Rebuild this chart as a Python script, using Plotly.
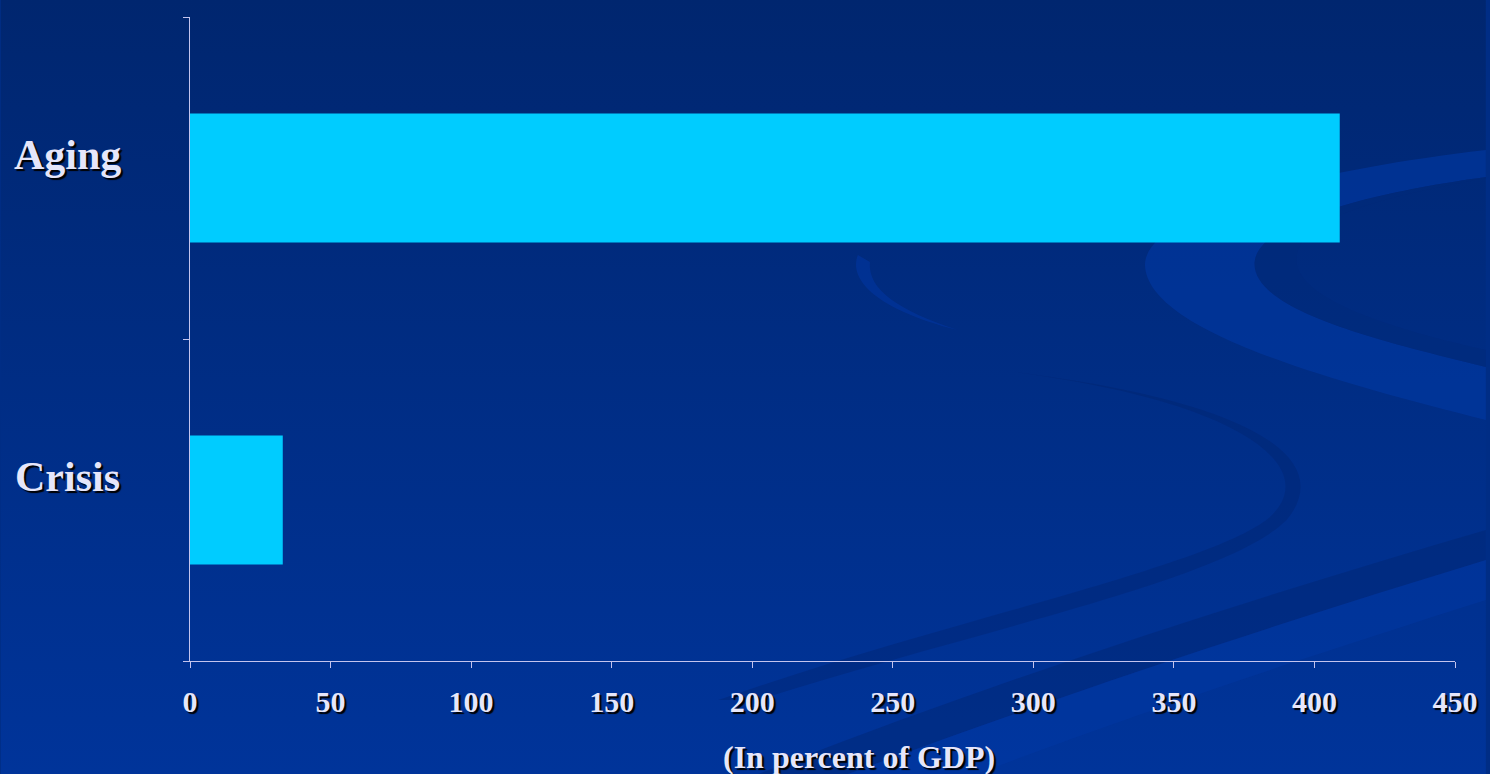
import base64
import plotly.graph_objects as go

# Data
categories = ["Aging", "Crisis"]
values = [409, 33]
x_tick_vals = [0, 50, 100, 150, 200, 250, 300, 350, 400, 450]
x_title = "(In percent of GDP)"

W, H = 1490, 774
ML, MR, MT, MB = 190, 31, 17, 113
PW, PH = W - ML - MR, H - MT - MB

FONT = "Liberation Serif, Times New Roman, serif"
TXT = "#E6E6FA"
AX = "#C4C4EE"
SHADOW = "2px 2px 1px #000000"

svg = f'''<svg xmlns="http://www.w3.org/2000/svg" width="{W}" height="{H}" viewBox="0 0 {W} {H}" preserveAspectRatio="none">
<defs><linearGradient id="g" x1="0" y1="0" x2="0" y2="1">
<stop offset="0" stop-color="#00266F"/><stop offset="1" stop-color="#00349A"/></linearGradient></defs>
<rect width="{W}" height="{H}" fill="url(#g)"/>
<path d="M1490 150 C1300 172 1148 215 1148 265 C1150 330 1330 380 1490 420 L1490 367 C1380 340 1255 310 1258 262 C1262 220 1380 192 1490 177 Z" fill="#0038A4" opacity="0.6"/>
<path d="M1490 178 C1400 195 1300 215 1300 260 C1300 300 1400 330 1490 350 L1490 367 C1380 340 1255 310 1258 262 C1262 220 1380 192 1490 177 Z" fill="#002A7A" opacity="0.5"/>
<path d="M860 255 C850 280 880 310 960 330 C900 310 870 290 872 262 Z" fill="#0036A0" opacity="0.6"/>
<path d="M1000 370 C1250 400 1330 470 1270 520 C1200 570 950 620 720 700 L760 700 C980 630 1230 580 1290 520 C1340 460 1260 400 1000 370 Z" fill="#00236A" opacity="0.35"/>
<path d="M760 774 C1000 680 1250 600 1490 530 L1490 560 C1260 630 1050 700 850 774 Z" fill="#002670" opacity="0.45"/>
<path d="M850 774 C1050 700 1260 630 1490 560 L1490 600 C1300 660 1120 720 980 774 Z" fill="#003AA8" opacity="0.4"/>
</svg>'''
src = "data:image/svg+xml;base64," + base64.b64encode(svg.encode()).decode()

fig = go.Figure(
    go.Bar(
        y=categories,
        x=values,
        orientation="h",
        width=0.4,
        marker=dict(color="#00CCFF", line=dict(width=0)),
        hoverinfo="x+y",
    )
)

annotations = []
for c in categories:
    annotations.append(dict(
        x=(67 - ML) / PW, xref="paper", y=c, yref="y",
        text=c, showarrow=False, xanchor="center", yanchor="middle", yshift=23,
        font=dict(family=FONT, size=42, color=TXT, weight=700, shadow=SHADOW),
    ))
annotations.append(dict(
    x=(861 - ML) / PW, xref="paper", y=-(757 - (MT + PH)) / PH, yref="paper",
    text=x_title, showarrow=False, xanchor="center", yanchor="middle",
    font=dict(family=FONT, size=32, color=TXT, weight=700, shadow=SHADOW),
))

fig.update_layout(
    width=W, height=H,
    margin=dict(l=ML, r=MR, t=MT, b=MB, pad=0),
    paper_bgcolor="#002D85",
    plot_bgcolor="rgba(0,0,0,0)",
    showlegend=False,
    images=[dict(
        source=src, xref="paper", yref="paper",
        x=-ML / PW, y=1 + MT / PH, sizex=W / PW, sizey=H / PH,
        xanchor="left", yanchor="top", sizing="stretch", layer="below",
    )],
    xaxis=dict(
        range=[0, 450], tickvals=x_tick_vals, ticktext=[str(v) for v in x_tick_vals],
        showgrid=False, zeroline=False,
        showline=True, linecolor=AX, linewidth=1,
        ticks="outside", ticklen=6, tickcolor=AX, tickwidth=1,
        ticklabelstandoff=8,
        tickfont=dict(family=FONT, size=30, color=TXT, weight=700, shadow=SHADOW),
        fixedrange=True,
    ),
    yaxis=dict(
        type="category", categoryorder="array", categoryarray=categories[::-1],
        range=[-0.5, 1.5],
        showgrid=False, zeroline=False,
        showline=True, linecolor=AX, linewidth=1,
        ticks="outside", ticklen=6, tickcolor=AX, tickwidth=1,
        tickson="boundaries", showticklabels=False,
        fixedrange=True,
    ),
    annotations=annotations,
)

fig.write_html(
    "out.html",
    config={"displayModeBar": False},
    post_script="document.body.style.margin='0';document.body.style.overflow='hidden';",
)
